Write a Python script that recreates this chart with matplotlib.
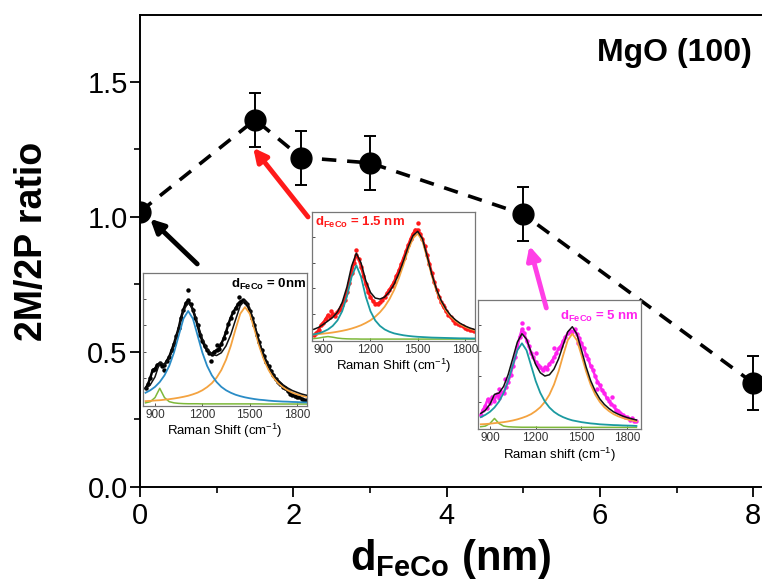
import numpy as np
import matplotlib
matplotlib.use('Agg')
import matplotlib.pyplot as plt
from matplotlib.patches import FancyArrowPatch
from matplotlib.ticker import MultipleLocator

plt.rcParams['font.family'] = ['Liberation Sans', 'DejaVu Sans']
plt.rcParams['mathtext.fontset'] = 'custom'
plt.rcParams['mathtext.rm'] = 'Liberation Sans'
plt.rcParams['mathtext.bf'] = 'Liberation Sans:bold'
plt.rcParams['mathtext.it'] = 'Liberation Sans:italic'

# main data: 2M/2P ratio vs FeCo thickness
thickness = [0, 1.5, 2.1, 3.0, 5.0, 8.0]
ratio = [1.02, 1.36, 1.22, 1.20, 1.01, 0.385]
ratio_err = [0, 0.1, 0.1, 0.1, 0.1, 0.1]

# inset spectra (normalised intensity)
fit_x = list(range(840, 1861, 30))
data_x = list(range(840, 1861, 15))

# d = 0 nm
blue_0 = [0.086, 0.105, 0.131, 0.168, 0.219, 0.291, 0.392, 0.522, 0.651, 0.710,
          0.651, 0.522, 0.392, 0.291, 0.219, 0.168, 0.131, 0.105, 0.086, 0.071,
          0.060, 0.051, 0.044, 0.038, 0.033, 0.030, 0.026, 0.023, 0.021, 0.019,
          0.018, 0.016, 0.015, 0.013, 0.012]
orange_0 = [0.022, 0.024, 0.027, 0.029, 0.033, 0.037, 0.042, 0.048, 0.055, 0.063,
            0.074, 0.087, 0.105, 0.129, 0.159, 0.201, 0.259, 0.338, 0.443, 0.570,
            0.689, 0.740, 0.689, 0.570, 0.443, 0.338, 0.259, 0.201, 0.159, 0.129,
            0.105, 0.087, 0.074, 0.063, 0.055]
green_0 = [0.009, 0.018, 0.049, 0.120, 0.049, 0.018, 0.009, 0.005, 0.003, 0.002,
           0.002, 0.002, 0.001, 0.001, 0.001, 0.001, 0.001, 0.001, 0.001, 0.001,
           0.001, 0.001, 0.001, 0.001, 0.001, 0, 0, 0, 0, 0,
           0, 0, 0, 0, 0]
data_0 = [0.12, 0.15, 0.20, 0.26, 0.27, 0.30, 0.31, 0.29, 0.30, 0.33,
          0.36, 0.41, 0.46, 0.52, 0.58, 0.66, 0.72, 0.77, 0.79, 0.76,
          0.72, 0.66, 0.60, 0.53, 0.48, 0.44, 0.41, 0.39, 0.38, 0.40,
          0.41, 0.42, 0.46, 0.50, 0.55, 0.61, 0.66, 0.70, 0.73, 0.76,
          0.78, 0.79, 0.78, 0.76, 0.71, 0.66, 0.60, 0.53, 0.47, 0.41,
          0.37, 0.32, 0.29, 0.25, 0.22, 0.19, 0.17, 0.15, 0.13, 0.12,
          0.10, 0.08, 0.07, 0.06, 0.05, 0.05, 0.04, 0.03, 0.03]
stray_x_0 = [1111, 1434, 1253, 960, 1290]
stray_y_0 = [0.87, 0.82, 0.33, 0.26, 0.45]

# d = 1.5 nm
blue_15 = [0.037, 0.045, 0.058, 0.076, 0.104, 0.147, 0.219, 0.334, 0.490, 0.580,
           0.490, 0.334, 0.219, 0.147, 0.104, 0.076, 0.058, 0.045, 0.037, 0.030,
           0.025, 0.021, 0.018, 0.016, 0.014, 0.012, 0.011, 0.010, 0.009, 0.008,
           0.007, 0.006, 0.006, 0.005, 0.005]
orange_15 = [0.036, 0.039, 0.043, 0.047, 0.052, 0.058, 0.065, 0.073, 0.083, 0.095,
             0.109, 0.127, 0.148, 0.176, 0.211, 0.255, 0.313, 0.386, 0.478, 0.587,
             0.701, 0.793, 0.830, 0.773, 0.639, 0.497, 0.379, 0.291, 0.226, 0.178,
             0.144, 0.118, 0.098, 0.083, 0.071]
green_15 = [0.004, 0.008, 0.015, 0.020, 0.015, 0.008, 0.004, 0.002, 0.001, 0.001,
            0, 0, 0, 0, 0, 0, 0, 0, 0, 0,
            0, 0, 0, 0, 0, 0, 0, 0, 0, 0,
            0, 0, 0, 0, 0]
data_15 = [0.03, 0.05, 0.07, 0.11, 0.13, 0.16, 0.19, 0.17, 0.20, 0.18,
           0.21, 0.24, 0.27, 0.31, 0.37, 0.44, 0.52, 0.60, 0.66, 0.63,
           0.57, 0.50, 0.43, 0.37, 0.33, 0.30, 0.28, 0.28, 0.29, 0.31,
           0.33, 0.36, 0.39, 0.42, 0.45, 0.50, 0.54, 0.59, 0.64, 0.69,
           0.74, 0.79, 0.83, 0.86, 0.86, 0.83, 0.79, 0.73, 0.66, 0.59,
           0.52, 0.45, 0.39, 0.33, 0.29, 0.25, 0.22, 0.19, 0.17, 0.15,
           0.13, 0.12, 0.11, 0.10, 0.09, 0.08, 0.07, 0.07, 0.06]
stray_x_15 = [1500, 1105, 950, 1000, 1660]
stray_y_15 = [0.91, 0.70, 0.22, 0.23, 0.27]

# d = 5 nm
blue_5 = [0.080, 0.098, 0.122, 0.156, 0.203, 0.271, 0.364, 0.485, 0.605, 0.660,
          0.605, 0.485, 0.364, 0.271, 0.203, 0.156, 0.122, 0.098, 0.080, 0.066,
          0.055, 0.048, 0.041, 0.036, 0.031, 0.028, 0.024, 0.022, 0.020, 0.018,
          0.017, 0.015, 0.014, 0.013, 0.011]
orange_5 = [0.024, 0.026, 0.029, 0.033, 0.037, 0.041, 0.047, 0.054, 0.063, 0.074,
            0.087, 0.104, 0.128, 0.158, 0.200, 0.257, 0.336, 0.440, 0.566, 0.684,
            0.735, 0.684, 0.566, 0.440, 0.336, 0.257, 0.200, 0.158, 0.128, 0.104,
            0.087, 0.074, 0.063, 0.054, 0.047]
green_5 = [0.005, 0.010, 0.030, 0.070, 0.030, 0.010, 0.005, 0.003, 0.002, 0.001,
           0.001, 0.001, 0.001, 0, 0, 0, 0, 0, 0, 0,
           0, 0, 0, 0, 0, 0, 0, 0, 0, 0,
           0, 0, 0, 0, 0]
data_5 = [0.10, 0.14, 0.17, 0.22, 0.19, 0.24, 0.21, 0.26, 0.23, 0.28,
          0.27, 0.32, 0.36, 0.41, 0.48, 0.55, 0.63, 0.71, 0.77, 0.74,
          0.68, 0.64, 0.58, 0.55, 0.51, 0.49, 0.47, 0.45, 0.47, 0.46,
          0.50, 0.52, 0.55, 0.58, 0.62, 0.64, 0.68, 0.71, 0.74, 0.76,
          0.75, 0.77, 0.73, 0.70, 0.66, 0.62, 0.57, 0.54, 0.48, 0.45,
          0.40, 0.36, 0.33, 0.29, 0.27, 0.23, 0.21, 0.18, 0.17, 0.14,
          0.13, 0.11, 0.10, 0.08, 0.08, 0.06, 0.07, 0.05, 0.05]
stray_x_5 = [1000, 1150, 1320, 1600, 1700, 1200, 960, 1480, 1110, 880]
stray_y_5 = [0.38, 0.78, 0.62, 0.30, 0.24, 0.58, 0.30, 0.66, 0.82, 0.15]


fig = plt.figure(figsize=(7.62, 5.85), dpi=100)
ax = fig.add_axes([0.184, 0.1675, 0.8145, 0.807])

ax.plot(thickness, ratio, color='black', lw=2.6, dashes=(4, 3), zorder=2)
ax.errorbar(thickness, ratio, yerr=ratio_err, fmt='o', color='black',
            ms=15, capsize=4, elinewidth=1.4, capthick=1.4, zorder=3)

ax.set_xlim(0, 8.1)
ax.set_ylim(0, 1.748)
ax.xaxis.set_major_locator(MultipleLocator(2))
ax.xaxis.set_minor_locator(MultipleLocator(1))
ax.yaxis.set_major_locator(MultipleLocator(0.5))
ax.yaxis.set_minor_locator(MultipleLocator(0.25))
ax.yaxis.set_major_formatter(plt.FormatStrFormatter('%.1f'))
ax.tick_params(which='major', direction='out', length=7, width=1.3, labelsize=21, pad=2)
ax.tick_params(which='minor', direction='out', length=4, width=1.2)
ax.tick_params(axis='x', which='major', pad=4)
for s in ax.spines.values():
    s.set_linewidth(1.4)
ax.spines['right'].set_visible(False)

ax.set_ylabel('2M/2P ratio', fontsize=27, fontweight='bold')
ax.yaxis.set_label_coords(-0.145, 0.52)
ax.set_xlabel(r'd$_{\mathbf{FeCo}}$ (nm)', fontsize=30, fontweight='bold')
ax.xaxis.set_label_coords(0.5, -0.105)

ax.text(0.985, 0.92, 'MgO (100)', transform=ax.transAxes, fontsize=23,
        fontweight='bold', ha='right', va='center')


def draw_inset(rect, xlim, blue, orange, green, data, sx, sy, dcolor, bcolor,
               label, lpos, lha, xlabel):
    ins = fig.add_axes(rect)
    total = np.array(blue) + np.array(orange) + np.array(green)
    ins.plot(data_x, data, '-', color=dcolor, lw=1.8, zorder=2)
    ins.plot(data_x, data, 'o', color=dcolor, ms=3.2, mew=0, zorder=2)
    ins.plot(sx, sy, 'o', color=dcolor, ms=3.2, mew=0, zorder=2)
    ins.plot(fit_x, green, color='#7db83a', lw=1.1, zorder=3)
    ins.plot(fit_x, orange, color='#f4a340', lw=1.3, zorder=3)
    ins.plot(fit_x, blue, color=bcolor, lw=1.3, zorder=3)
    ins.plot(fit_x, total, color='#111111', lw=1.1, zorder=4)
    ins.set_xlim(*xlim)
    ins.set_ylim(-0.015, 1.0)
    ins.set_xticks([900, 1200, 1500, 1800])
    ins.set_yticks([0.2, 0.4, 0.6, 0.8])
    ins.set_yticklabels([])
    ins.tick_params(direction='in', length=2, width=0.6, labelsize=8.5, pad=2,
                    colors='#333333')
    for s in ins.spines.values():
        s.set_color('#777777')
        s.set_linewidth(0.9)
    ins.set_xlabel(xlabel, fontsize=9.5, labelpad=1)
    ins.text(lpos[0], lpos[1], label, transform=ins.transAxes, color=dcolor,
             fontsize=9.5, fontweight='bold', ha=lha, va='top')
    return ins


draw_inset([0.1877, 0.306, 0.2152, 0.2274], (824, 1863), blue_0, orange_0, green_0,
           data_0, stray_x_0, stray_y_0, 'black', '#2a8cc6',
           r'd$_{\mathbf{FeCo}}$ = 0nm', (0.995, 0.97), 'right',
           r'Raman Shift (cm$^{\mathregular{-1}}$)')
draw_inset([0.4094, 0.4171, 0.2139, 0.2205], (828, 1864), blue_15, orange_15, green_15,
           data_15, stray_x_15, stray_y_15, '#ff1a1a', '#1b9aa0',
           r'd$_{\mathbf{FeCo}}$ = 1.5 nm', (0.02, 0.98), 'left',
           r'Raman Shift (cm$^{\mathregular{-1}}$)')
draw_inset([0.6269, 0.2662, 0.2143, 0.221], (820, 1890), blue_5, orange_5, green_5,
           data_5, stray_x_5, stray_y_5, '#ff22ee', '#1b9aa0',
           r'd$_{\mathbf{FeCo}}$ = 5 nm', (0.99, 0.93), 'right',
           r'Raman shift (cm$^{\mathregular{-1}}$)')

# arrows from insets to data points (drawn above everything)
arrows = [((0.744, 0.826), (0.13, 0.993), 'black'),
          ((2.19, 1.00), (1.475, 1.256), '#ff1a1a'),
          ((5.30, 0.663), (5.08, 0.893), '#ff3fe6')]
for tail, head, c in arrows:
    fig.add_artist(FancyArrowPatch(tail, head, transform=ax.transData,
                                   arrowstyle='-|>', mutation_scale=20, lw=3.5,
                                   color=c, shrinkA=0, shrinkB=0))

fig.savefig('out.png', dpi=100)
